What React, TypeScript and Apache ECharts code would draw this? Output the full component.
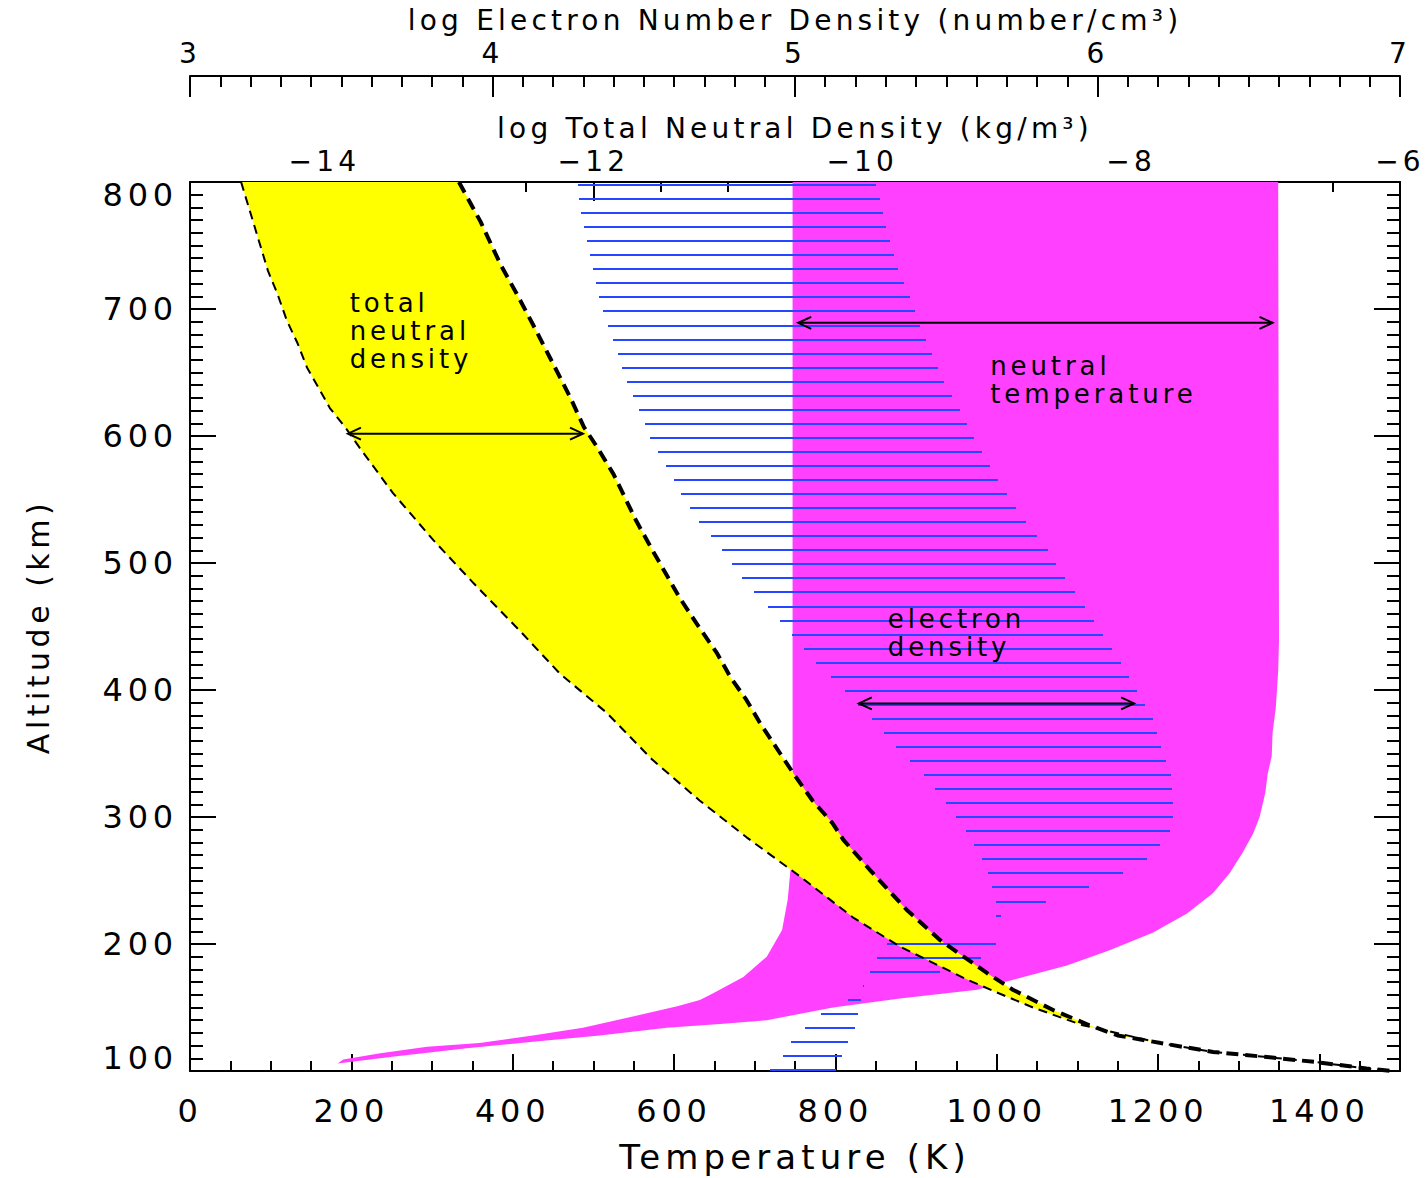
import React, { useEffect, useRef } from 'react';
import * as echarts from 'echarts';

// ---------- data ----------
// Total neutral density, log10(kg/m^3): low-activity edge
const ndLowAlt = [800, 772, 751, 730, 712, 691, 673, 654, 641, 622, 606, 591, 555, 518, 484, 447, 413, 382, 345, 313, 284, 253, 221, 198, 172, 161, 150, 136, 122, 115, 111, 107, 102, 100];
const ndLow = [-14.62, -14.54, -14.48, -14.42, -14.35, -14.28, -14.2, -14.13, -14.06, -13.96, -13.84, -13.74, -13.49, -13.19, -12.89, -12.55, -12.25, -11.9, -11.56, -11.21, -10.86, -10.46, -10.07, -9.72, -9.22, -8.98, -8.73, -8.36, -7.78, -7.39, -6.99, -6.62, -6.25, -6.06];
// high-activity edge
const ndHighAlt = [800, 769, 735, 712, 688, 657, 630, 607, 591, 570, 533, 510, 473, 452, 429, 410, 392, 374, 350, 334, 313, 295, 282, 258, 227, 203, 177, 164, 148, 136, 128, 122, 115, 111, 107, 102, 100];
const ndHigh = [-13.0, -12.84, -12.69, -12.57, -12.45, -12.3, -12.17, -12.07, -11.97, -11.85, -11.68, -11.56, -11.36, -11.23, -11.08, -10.98, -10.86, -10.76, -10.61, -10.51, -10.37, -10.22, -10.14, -9.94, -9.67, -9.42, -9.07, -8.88, -8.58, -8.31, -8.1, -7.78, -7.39, -6.99, -6.62, -6.25, -6.06];

// Neutral temperature (K): minimum and maximum
const tMinAlt = [800, 300, 265, 256, 235, 211, 190, 174, 161, 156, 151, 143, 134, 128, 122, 119, 114, 109, 106];
const tMin = [747, 747, 746, 744, 741, 734, 715, 686, 648, 632, 604, 549, 487, 425, 359, 294, 236, 190, 183];
const tMaxAlt = [106, 111, 118, 123, 128, 134, 137, 140, 150, 157, 164, 169, 183, 195, 209, 224, 240, 256, 272, 287, 300, 319, 334, 348, 366, 386, 415, 439, 800];
const tMax = [183, 248, 343, 425, 508, 591, 657, 715, 797, 880, 976, 1004, 1087, 1140, 1194, 1236, 1268, 1289, 1305, 1318, 1326, 1333, 1336, 1341, 1342, 1346, 1349, 1350, 1349];

// Electron density, log10(number/cm^3): minimum and maximum
const neLeftAlt = [800, 776, 755, 731, 709, 688, 665, 643, 622, 598, 577, 554, 532, 511, 487, 466, 444, 421, 400, 378, 355, 334, 312, 289, 268, 256, 235, 223, 214, 208, 204, 202, 190, 180, 168, 157, 146, 135, 124, 114, 102, 100];
const neLeft = [4.281, 4.291, 4.311, 4.331, 4.351, 4.38, 4.413, 4.443, 4.483, 4.523, 4.572, 4.625, 4.685, 4.758, 4.827, 4.907, 4.989, 5.072, 5.162, 5.251, 5.334, 5.423, 5.496, 5.565, 5.615, 5.638, 5.665, 5.665, 5.675, 5.675, 5.314, 5.311, 5.274, 5.251, 5.228, 5.185, 5.092, 5.039, 4.989, 4.97, 4.92, 4.913];
const neRightAlt = [100, 102, 114, 124, 135, 146, 157, 168, 180, 190, 202, 208, 214, 223, 235, 246, 256, 268, 279, 289, 301, 312, 334, 355, 378, 400, 421, 444, 466, 487, 511, 532, 554, 577, 598, 622, 643, 665, 688, 709, 731, 755, 776, 800];
const neRight = [5.135, 5.135, 5.158, 5.178, 5.201, 5.208, 5.218, 5.23, 5.532, 5.625, 5.671, 5.675, 5.675, 5.681, 5.857, 5.986, 6.085, 6.171, 6.211, 6.241, 6.251, 6.251, 6.241, 6.211, 6.181, 6.128, 6.078, 6.016, 5.956, 5.896, 5.834, 5.764, 5.701, 5.642, 5.592, 5.542, 5.493, 5.453, 5.41, 5.38, 5.34, 5.311, 5.291, 5.267];

// Range arrows: [from, to, altitude]
const densityArrow = [-13.825, -12.077, 601.8];
const tempArrow = [754, 1342, 689.1];
const electronArrow = [5.211, 6.121, 389.4];

// Annotations (temperature, altitude of the text block's top-left)
const annotT = [198, 992, 865];
const annotAlt = [716, 666, 467];
const annotText = ['total\nneutral\ndensity', 'neutral\ntemperature', 'electron\ndensity'];

// Tick values
const tempTicks = [0, 200, 400, 600, 800, 1000, 1200, 1400];
const densityTicks = [-14, -12, -10, -8, -6];
const electronTicks = [3, 4, 5, 6, 7];
const altTicks = [100, 200, 300, 400, 500, 600, 700, 800];

// ---------- styles ----------
const FONT = '"DejaVu Sans", Verdana, sans-serif';
const BLACK = '#000000';
const MAGENTA = '#ff40ff';
const YELLOW = '#ffff00';
const BLUE = '#2447ff';
const HATCH_SPACING = 14.05;
const HATCH_START = 3;

const zip = (xs: number[], ys: number[]) => xs.map((x, i) => [x, ys[i]]);
const minus = (v: number) => (v < 0 ? '\u2212' + Math.abs(v) : String(v));

const bandPolygon = (leftX: number[], leftY: number[], rightX: number[], rightY: number[]) =>
  zip(leftX, leftY).concat(zip(rightX, rightY));

const magentaPoly = bandPolygon(tMin, tMinAlt, tMax, tMaxAlt);
const yellowPoly = bandPolygon(ndLow, ndLowAlt, ndHigh.slice().reverse(), ndHighAlt.slice().reverse());
const electronPoly = bandPolygon(neLeft, neLeftAlt, neRight, neRightAlt);

function polygonSeries(xAxisIndex: number, pts: number[][], color: string, z: number) {
  return {
    type: 'custom',
    xAxisIndex,
    yAxisIndex: 0,
    clip: true,
    silent: true,
    z,
    data: pts,
    encode: { x: 0, y: 1 },
    renderItem: (params: any, api: any) => {
      if (params.dataIndex !== 0) return null;
      const points = pts.map((p) => api.coord(p));
      return { type: 'polygon', shape: { points }, style: { fill: color, stroke: 'none' } };
    },
  };
}

function hatchSeries(xAxisIndex: number, pts: number[][], color: string, z: number) {
  return {
    type: 'custom',
    xAxisIndex,
    yAxisIndex: 0,
    clip: true,
    silent: true,
    z,
    data: pts,
    encode: { x: 0, y: 1 },
    renderItem: (params: any, api: any) => {
      if (params.dataIndex !== 0) return null;
      const poly = pts.map((p) => api.coord(p));
      const ys = poly.map((p: number[]) => p[1]);
      const top = Math.min(...ys);
      const bottom = Math.max(...ys);
      const children: any[] = [];
      for (let yy = top + HATCH_START; yy <= bottom; yy += HATCH_SPACING) {
        const y = Math.round(yy);
        const xs: number[] = [];
        for (let i = 0; i < poly.length; i++) {
          const a = poly[i];
          const b = poly[(i + 1) % poly.length];
          if ((a[1] <= y && b[1] > y) || (b[1] <= y && a[1] > y)) {
            xs.push(a[0] + ((y - a[1]) * (b[0] - a[0])) / (b[1] - a[1]));
          }
        }
        xs.sort((m, n) => m - n);
        for (let k = 0; k + 1 < xs.length; k += 2) {
          if (xs[k + 1] - xs[k] < 1) continue;
          children.push({
            type: 'line',
            shape: { x1: Math.round(xs[k]), y1: y, x2: Math.round(xs[k + 1]), y2: y },
            style: { stroke: color, lineWidth: 2 },
          });
        }
      }
      return { type: 'group', children };
    },
  };
}

function arrowSeries(xAxisIndex: number, arrow: number[], z: number) {
  return {
    type: 'custom',
    xAxisIndex,
    yAxisIndex: 0,
    silent: true,
    z,
    data: [arrow],
    encode: { x: [0, 1], y: 2 },
    renderItem: (params: any, api: any) => {
      const a = api.coord([api.value(0), api.value(2)]);
      const b = api.coord([api.value(1), api.value(2)]);
      const h = 13;
      const w = 6;
      const st = { stroke: BLACK, lineWidth: 2, fill: 'none' };
      return {
        type: 'group',
        children: [
          { type: 'line', shape: { x1: a[0], y1: a[1], x2: b[0], y2: b[1] }, style: st },
          { type: 'polyline', shape: { points: [[a[0] + h, a[1] - w], [a[0], a[1]], [a[0] + h, a[1] + w]] }, style: st },
          { type: 'polyline', shape: { points: [[b[0] - h, b[1] - w], [b[0], b[1]], [b[0] - h, b[1] + w]] }, style: st },
        ],
      };
    },
  };
}

const annotSeries = {
  type: 'custom',
  xAxisIndex: 0,
  yAxisIndex: 0,
  silent: true,
  z: 10,
  data: zip(annotT, annotAlt),
  encode: { x: 0, y: 1 },
  renderItem: (params: any, api: any) => {
    const p = api.coord([api.value(0), api.value(1)]);
    return {
      type: 'text',
      x: p[0],
      y: p[1],
      style: {
        text: annotText[params.dataIndex],
        fill: BLACK,
        fontSize: 26,
        fontFamily: FONT,
        lineHeight: 28,
        align: 'left',
        verticalAlign: 'top',
      },
    };
  },
};

const lineStyleBlack = { color: BLACK, width: 2 };

function baseAxis(extra: any) {
  return {
    type: 'value',
    splitLine: { show: false },
    axisLine: { show: false, onZero: false },
    axisTick: { show: false },
    axisLabel: { show: false },
    ...extra,
  };
}

const tickFont = { color: BLACK, fontFamily: FONT };

const option: any = {
  animation: false,
  backgroundColor: '#ffffff',
  grid: { left: 190, right: 26, top: 182, bottom: 107, containLabel: false, outerBoundsMode: 'none' },
  xAxis: [
    // 0: temperature (bottom)
    baseAxis({
      position: 'bottom',
      min: 0,
      max: 1500,
      interval: 100,
      axisLine: { show: true, onZero: false, lineStyle: lineStyleBlack },
      axisTick: { show: true, inside: true, length: 17, lineStyle: lineStyleBlack, customValues: tempTicks },
      axisLabel: {
        show: true,
        margin: 24,
        fontSize: 32,
        ...tickFont,
        customValues: tempTicks,
        formatter: (v: number) => (v % 200 === 0 && v <= 1400 ? String(v) : ''),
      },
      name: 'Temperature (K)',
      nameLocation: 'middle',
      nameGap: 69,
      nameTextStyle: { fontSize: 34, ...tickFont },
    }),
    // 1: temperature minor ticks
    baseAxis({
      position: 'bottom',
      min: 0,
      max: 1500,
      interval: 50,
      axisTick: { show: true, inside: true, length: 10, lineStyle: lineStyleBlack },
    }),
    // 2: log total neutral density (top of plot)
    baseAxis({
      position: 'top',
      min: -15,
      max: -6,
      interval: 1,
      axisLine: { show: true, onZero: false, lineStyle: lineStyleBlack },
      axisTick: { show: true, inside: true, length: 19, lineStyle: lineStyleBlack, customValues: densityTicks },
      axisLabel: {
        show: true,
        margin: 7,
        fontSize: 28,
        ...tickFont,
        customValues: densityTicks,
        formatter: (v: number) => (Math.round(v) % 2 === 0 ? minus(v) : ''),
      },
      name: 'log Total Neutral Density (kg/m\u00b3)',
      nameLocation: 'middle',
      nameGap: 33,
      nameTextStyle: { fontSize: 28, ...tickFont },
    }),
    // 3: density minor ticks
    baseAxis({
      position: 'top',
      min: -15,
      max: -6,
      interval: 0.5,
      axisTick: { show: true, inside: true, length: 10, lineStyle: lineStyleBlack },
    }),
    // 4: log electron number density (upper detached axis)
    baseAxis({
      position: 'top',
      offset: 106,
      min: 3,
      max: 7,
      interval: 1,
      axisLine: { show: true, onZero: false, lineStyle: lineStyleBlack },
      axisTick: { show: true, inside: true, length: 21, lineStyle: lineStyleBlack, customValues: electronTicks },
      axisLabel: { show: true, margin: 9, fontSize: 28, ...tickFont, customValues: electronTicks },
      name: 'log Electron Number Density (number/cm\u00b3)',
      nameLocation: 'middle',
      nameGap: 34,
      nameTextStyle: { fontSize: 28, ...tickFont },
    }),
    // 5: electron density minor ticks
    baseAxis({
      position: 'top',
      offset: 106,
      min: 3,
      max: 7,
      interval: 0.1,
      axisTick: { show: true, inside: true, length: 11, lineStyle: lineStyleBlack },
    }),
  ],
  yAxis: [
    baseAxis({
      position: 'left',
      min: 100,
      max: 800,
      interval: 100,
      axisLine: { show: true, onZero: false, lineStyle: lineStyleBlack },
      axisTick: { show: true, inside: true, length: 26, lineStyle: lineStyleBlack, customValues: altTicks },
      axisLabel: {
        show: true,
        margin: 12,
        customValues: altTicks,
        formatter: (v: number) => (v === 800 ? `{t|${v}}` : v === 100 ? `{b|${v}}` : `{n|${v}}`),
        rich: {
          t: { fontSize: 32, ...tickFont, padding: [26, 0, 0, 0] },
          b: { fontSize: 32, ...tickFont, padding: [0, 0, 26, 0] },
          n: { fontSize: 32, ...tickFont },
        },
      },
      name: 'Altitude (km)',
      nameLocation: 'middle',
      nameRotate: 90,
      nameGap: 137,
      nameTextStyle: { fontSize: 30, ...tickFont },
    }),
    baseAxis({
      position: 'left',
      min: 100,
      max: 800,
      interval: 10,
      axisTick: { show: true, inside: true, length: 13, lineStyle: lineStyleBlack },
    }),
    baseAxis({
      position: 'right',
      min: 100,
      max: 800,
      interval: 100,
      axisLine: { show: true, onZero: false, lineStyle: lineStyleBlack },
      axisTick: { show: true, inside: true, length: 26, lineStyle: lineStyleBlack },
    }),
    baseAxis({
      position: 'right',
      min: 100,
      max: 800,
      interval: 10,
      axisTick: { show: true, inside: true, length: 13, lineStyle: lineStyleBlack },
    }),
  ],
  series: [
    polygonSeries(0, magentaPoly, MAGENTA, 1),
    polygonSeries(2, yellowPoly, YELLOW, 2),
    hatchSeries(4, electronPoly, BLUE, 3),
    {
      type: 'line',
      xAxisIndex: 2,
      yAxisIndex: 0,
      data: zip(ndLow, ndLowAlt),
      showSymbol: false,
      symbol: 'none',
      silent: true,
      z: 4,
      clip: true,
      lineStyle: { color: BLACK, width: 2, type: [9, 6] },
    },
    {
      type: 'line',
      xAxisIndex: 2,
      yAxisIndex: 0,
      data: zip(ndHigh, ndHighAlt),
      showSymbol: false,
      symbol: 'none',
      silent: true,
      z: 4,
      clip: true,
      lineStyle: { color: BLACK, width: 4, type: [12, 7] },
    },
    arrowSeries(2, densityArrow, 5),
    arrowSeries(0, tempArrow, 5),
    arrowSeries(4, electronArrow, 5),
    annotSeries,
  ],
};

export default function App() {
  const ref = useRef<HTMLDivElement>(null);
  useEffect(() => {
    if (!ref.current) return;
    const chart = echarts.init(ref.current, null, { renderer: 'svg' });
    chart.setOption(option);
    return () => chart.dispose();
  }, []);
  return (
    <>
      <style>{`.ref-chart text { letter-spacing: 0.15em; }`}</style>
      <div
        ref={ref}
        className="ref-chart"
        style={{ position: 'fixed', left: 0, top: 0, width: 1426, height: 1178, background: '#ffffff' }}
      />
    </>
  );
}
